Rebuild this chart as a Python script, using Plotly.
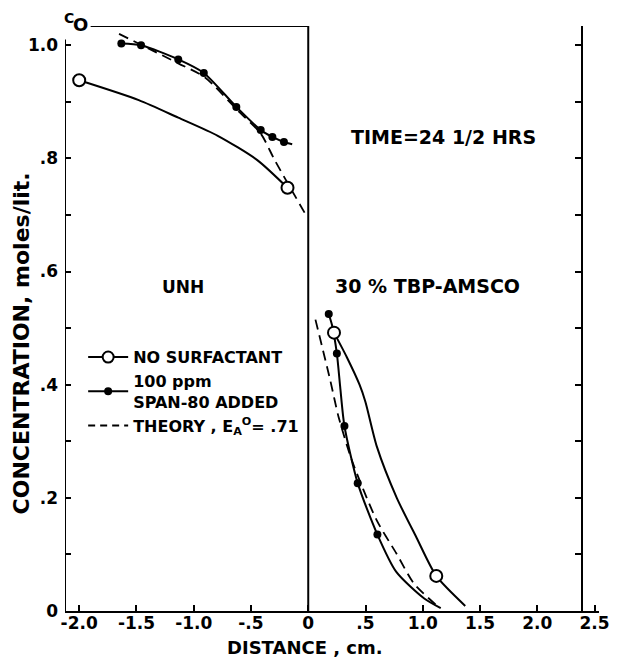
import plotly.graph_objects as go

# ---------------- data ----------------
# No surfactant: measured points (open circles)
nosurf_pts_x = [-2.0, -0.181, 0.225, 1.118]
nosurf_pts_y = [0.938, 0.748, 0.492, 0.062]
# No surfactant: hand-drawn curve (aqueous side | organic side)
nosurf_curve_x = [-2.0, -1.48, -1.135, -0.79, -0.445, -0.181, None,
                  0.225, 0.336, 0.448, 0.499, 0.600, 0.773, 0.945, 1.118, 1.371]
nosurf_curve_y = [0.938, 0.903, 0.872, 0.840, 0.797, 0.748, None,
                  0.492, 0.449, 0.400, 0.370, 0.290, 0.200, 0.130, 0.062, 0.009]

# 100 ppm SPAN-80 added: measured points (filled dots)
span_pts_x = [-1.632, -1.46, -1.135, -0.912, -0.628, -0.415, -0.313, -0.212,
              0.179, 0.250, 0.316, 0.432, 0.604]
span_pts_y = [1.003, 1.000, 0.975, 0.951, 0.891, 0.850, 0.838, 0.829,
              0.525, 0.455, 0.327, 0.226, 0.135]
span_curve_x = [-1.632, -1.46, -1.135, -0.912, -0.628, -0.415, -0.313, -0.212, -0.14, None,
                0.179, 0.208, 0.250, 0.279, 0.316, 0.432, 0.604, 0.769, 1.013, 1.157]
span_curve_y = [1.003, 1.000, 0.975, 0.951, 0.891, 0.850, 0.838, 0.829, 0.825, None,
                0.525, 0.505, 0.455, 0.396, 0.327, 0.226, 0.135, 0.069, 0.022, 0.005]

# Theory, E_A^O = .71 (dashed)
theory_x = [-1.652, -1.135, -0.901, -0.617, -0.415, -0.293, -0.029, None,
            0.063, 0.192, 0.265, 0.380, 0.596, 0.769, 0.925, 1.138]
theory_y = [1.020, 0.968, 0.943, 0.885, 0.844, 0.797, 0.703, None,
            0.515, 0.408, 0.343, 0.267, 0.161, 0.102, 0.048, 0.007]

# axis ticks
x_tickvals = [-2.0, -1.5, -1.0, -0.5, 0.0, 0.5, 1.0, 1.5, 2.0, 2.5]
x_ticktext = ["-2.0", "-1.5", "-1.0", "-.5", "0", ".5", "1.0", "1.5", "2.0", "2.5"]
y_tickvals = [0.0, 0.1, 0.2, 0.3, 0.4, 0.5, 0.6, 0.7, 0.8, 0.9, 1.0]
y_ticktext = ["0", "", ".2", "", ".4", "", ".6", "", ".8", "", "1.0"]

X_RANGE = [-2.124, 2.539]
Y_RANGE = [0.0, 1.034]
RIGHT_AXIS_X = 2.392
LEFT_AXIS_TOP = 1.01
TOP_LINE_START = -1.90

FONT = "DejaVu Sans"
BLACK = "black"

fig = go.Figure()

# curves
fig.add_trace(go.Scatter(x=nosurf_curve_x, y=nosurf_curve_y, mode="lines",
                         line=dict(color=BLACK, width=2, shape="spline", smoothing=0.7),
                         showlegend=False, hoverinfo="skip"))
fig.add_trace(go.Scatter(x=span_curve_x, y=span_curve_y, mode="lines",
                         line=dict(color=BLACK, width=2, shape="spline", smoothing=0.7),
                         showlegend=False, hoverinfo="skip"))
fig.add_trace(go.Scatter(x=theory_x, y=theory_y, mode="lines",
                         line=dict(color=BLACK, width=1.8, dash="10px,6px", shape="spline", smoothing=0.7),
                         showlegend=False, hoverinfo="skip"))
# points
fig.add_trace(go.Scatter(x=nosurf_pts_x, y=nosurf_pts_y, mode="markers",
                         marker=dict(symbol="circle", size=12, color="white",
                                     line=dict(color=BLACK, width=2)),
                         showlegend=False))
fig.add_trace(go.Scatter(x=span_pts_x, y=span_pts_y, mode="markers",
                         marker=dict(symbol="circle", size=8, color=BLACK),
                         showlegend=False))

# legend entries (on the right-hand axis so that axis gets drawn)
fig.add_trace(go.Scatter(x=[None], y=[None], yaxis="y2", mode="lines+markers",
                         name="NO SURFACTANT",
                         line=dict(color=BLACK, width=2),
                         marker=dict(symbol="circle", size=11, color="white",
                                     line=dict(color=BLACK, width=2))))
fig.add_trace(go.Scatter(x=[None], y=[None], yaxis="y2", mode="lines+markers",
                         name="100 ppm<br>SPAN-80 ADDED",
                         line=dict(color=BLACK, width=2),
                         marker=dict(symbol="circle", size=8, color=BLACK)))
fig.add_trace(go.Scatter(x=[None], y=[None], yaxis="y2", mode="lines",
                         name="THEORY , E<sub>A</sub><sup>O</sup>= .71",
                         line=dict(color=BLACK, width=2, dash="7px,5px")))

# frame lines (interface, top border, left axis)
fig.add_shape(type="line", x0=0, x1=0, y0=0, y1=Y_RANGE[1], xref="x", yref="y",
              line=dict(color=BLACK, width=2))
fig.add_shape(type="line", x0=TOP_LINE_START, x1=0, y0=Y_RANGE[1], y1=Y_RANGE[1],
              xref="x", yref="y", line=dict(color=BLACK, width=2))
fig.add_shape(type="line", x0=X_RANGE[0], x1=X_RANGE[0], y0=0, y1=LEFT_AXIS_TOP,
              xref="x", yref="y", line=dict(color=BLACK, width=2))

# text annotations
ann_font = dict(family=FONT, color=BLACK, weight="bold")
fig.add_annotation(x=-2.09, y=1.014, xref="x", yref="paper", text="C", showarrow=False,
                   xanchor="center", yanchor="middle", font=dict(ann_font, size=14))
fig.add_annotation(x=-1.986, y=1.002, xref="x", yref="paper", text="O", showarrow=False,
                   xanchor="center", yanchor="middle", font=dict(ann_font, size=18))
fig.add_annotation(x=1.183, y=0.837, xref="x", yref="y", text="TIME=24 1/2 HRS",
                   showarrow=False, font=dict(ann_font, size=19))
fig.add_annotation(x=-1.097, y=0.572, xref="x", yref="y", text="UNH",
                   showarrow=False, font=dict(ann_font, size=17))
fig.add_annotation(x=1.045, y=0.574, xref="x", yref="y", text="30 % TBP-AMSCO",
                   showarrow=False, font=dict(ann_font, size=19))
fig.add_annotation(x=-0.026, y=-0.062, xref="x", yref="paper", text="DISTANCE , cm.",
                   showarrow=False, font=dict(ann_font, size=18),
                   xanchor="center", yanchor="middle")
fig.add_annotation(x=-0.0824, y=0.473, xref="paper", yref="y",
                   text="CONCENTRATION, moles/lit.", textangle=-90,
                   xanchor="center", yanchor="middle",
                   showarrow=False, font=dict(ann_font, size=22))

tick_font = dict(family=FONT, size=17, color=BLACK, weight="bold")

fig.update_layout(
    width=614, height=656,
    margin=dict(l=57, r=17, t=18, b=53, pad=0),
    paper_bgcolor="white", plot_bgcolor="white",
    showlegend=True,
    legend=dict(x=0.034, y=0.463, xanchor="left", yanchor="top",
                bgcolor="rgba(0,0,0,0)", borderwidth=0,
                font=dict(family=FONT, size=16, color=BLACK, weight="bold"),
                tracegroupgap=0, itemwidth=40),
    xaxis=dict(range=X_RANGE, showgrid=False, zeroline=False,
               showline=True, linecolor=BLACK, linewidth=2,
               ticks="inside", ticklen=6, tickwidth=2, tickcolor=BLACK,
               tickvals=x_tickvals, ticktext=x_ticktext, tickfont=tick_font,
               ticklabelstandoff=-4),
    yaxis=dict(range=Y_RANGE, showgrid=False, zeroline=False, showline=False,
               ticks="inside", ticklen=6, tickwidth=2, tickcolor=BLACK,
               tickvals=y_tickvals, ticktext=y_ticktext, tickfont=tick_font,
               ticklabelstandoff=6),
    yaxis2=dict(range=Y_RANGE, overlaying="y", anchor="free", side="right",
                position=(RIGHT_AXIS_X - X_RANGE[0]) / (X_RANGE[1] - X_RANGE[0]),
                showgrid=False, zeroline=False, showline=True, linecolor=BLACK, linewidth=2,
                ticks="inside", ticklen=6, tickwidth=2, tickcolor=BLACK,
                tickvals=y_tickvals, showticklabels=False),
)

fig.write_html("out.html")
